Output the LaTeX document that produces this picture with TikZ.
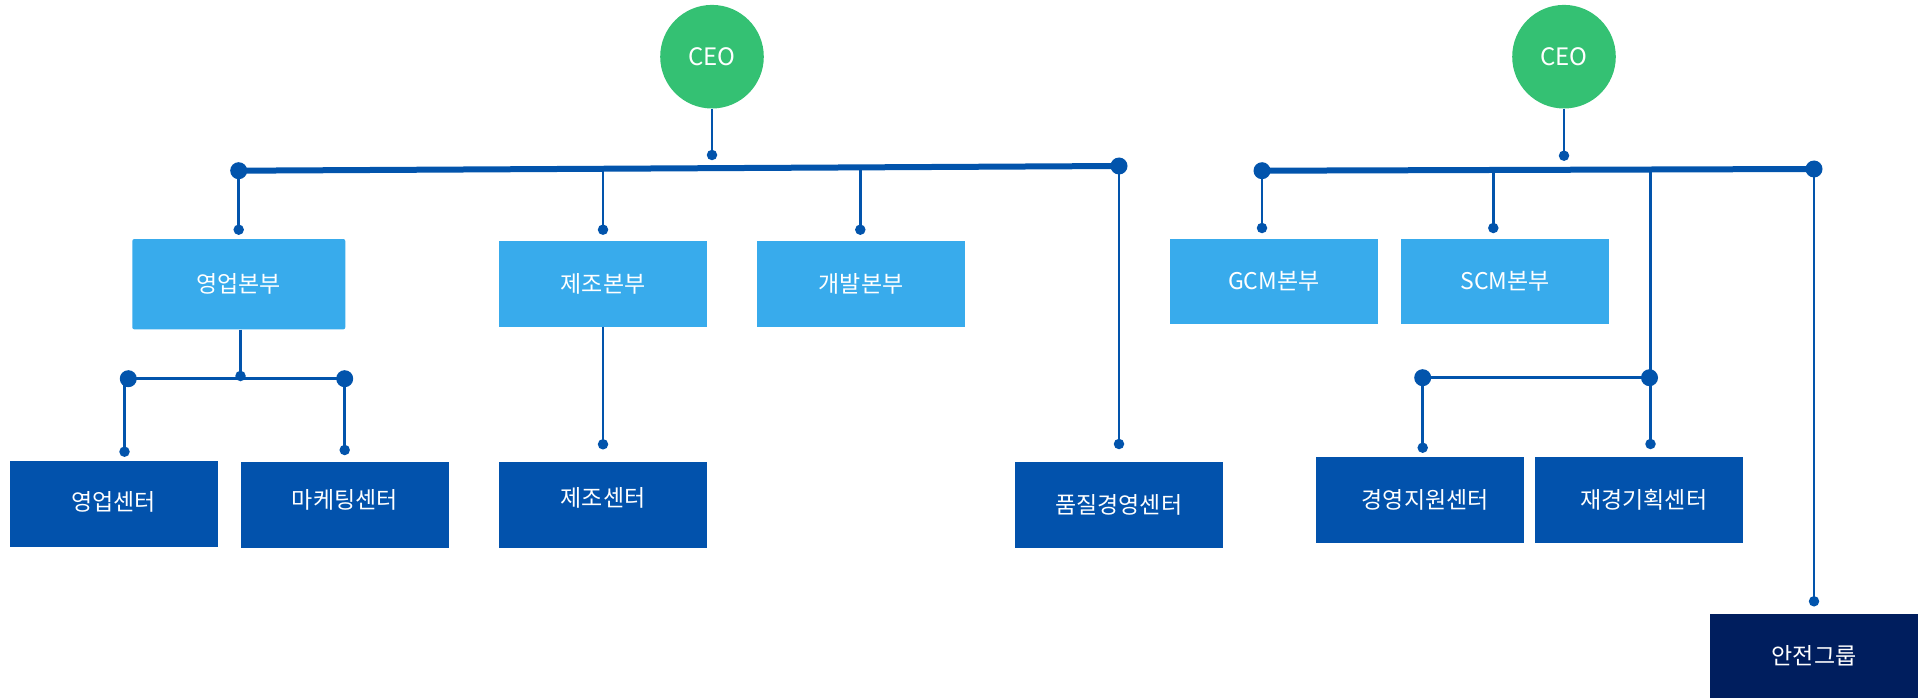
\documentclass[tikz,border=0pt]{standalone}
\usepackage{fontspec}
\setmainfont{Noto Sans CJK KR}
\definecolor{lightblue}{HTML}{38ABEC}
\definecolor{darkblue}{HTML}{0252AC}
\definecolor{navy}{HTML}{001E5E}
\definecolor{ceogreen}{HTML}{34C173}
\definecolor{lineblue}{HTML}{0254AC}
\tikzset{
  boxbase/.style={rectangle, text=white, inner sep=0pt, minimum width=208pt, minimum height=85.7pt, font=\fontsize{23}{27}\selectfont},
  lbox/.style={boxbase, fill=lightblue},
  dbox/.style={boxbase, fill=darkblue},
  nbox/.style={boxbase, fill=navy},
  lbl/.style={text=white, inner sep=0pt, font=\fontsize{23}{27}\selectfont},
  ceo/.style={circle, fill=ceogreen, text=white, minimum size=103.6pt, inner sep=0pt, font=\fontsize{24}{28}\selectfont},
  bdot/.style={circle, fill=lineblue, minimum size=17pt, inner sep=0pt},
  sdot/.style={circle, fill=lineblue, minimum size=10.5pt, inner sep=0pt},
  conn/.style={draw=lineblue, line width=2.7pt},
  mainbar/.style={draw=lineblue, line width=6pt},
  subbar/.style={draw=lineblue, line width=3.5pt},
}
\begin{document}
\begin{tikzpicture}[x=1pt,y=-1pt]
\useasboundingbox (0,0) rectangle (1925,698);
% CEOs
\node[ceo] (ceo1) at (712,56.7) {CEO};
\node[ceo] (ceo2) at (1564,56.7) {CEO};
% boxes
\node[lbox, rounded corners=2pt, minimum width=213pt, minimum height=90.3pt] (yb) at (238.8,284.2) {영업본부};
\node[lbox] (jb) at (603,283.8) {제조본부};
\node[lbox] (gb) at (861,283.8) {개발본부};
\node[lbox, minimum height=85.3pt] (gcm) at (1273.8,281.7) {GCM본부};
\node[lbox, minimum height=85.3pt] (scm) at (1505,281.7) {SCM본부};
\node[dbox, label={[lbl, yshift=2pt]center:영업센터}] (yc) at (113.8,503.8) {};
\node[dbox, label={[lbl, yshift=4.5pt]center:마케팅센터}] (mkc) at (344.8,504.8) {};
\node[dbox, label={[lbl, yshift=6.5pt]center:제조센터}] (jc) at (603,504.8) {};
\node[dbox] (qc) at (1118.8,504.8) {품질경영센터};
\node[dbox, label={[lbl, xshift=5.5pt]center:경영지원센터}] (kc) at (1419.8,499.8) {};
\node[dbox, label={[lbl, xshift=5pt]center:재경기획센터}] (fc) at (1638.8,499.8) {};
\node[nbox, minimum height=84pt] (sg) at (1814,656) {안전그룹};
% dots
\node[sdot] (c1) at (712,155) {};
\node[sdot] (c2) at (1564,155.7) {};
\node[bdot] (b1l) at (238.7,170.7) {};
\node[bdot] (b1r) at (1119,166) {};
\node[bdot] (b2l) at (1262,170.7) {};
\node[bdot] (b2r) at (1814,169) {};
\node[sdot] (dyb) at (238.7,229.7) {};
\node[sdot] (djb) at (603,229.7) {};
\node[sdot] (dgb) at (860.3,229.7) {};
\node[sdot] (dqc) at (1119,444) {};
\node[sdot] (djc) at (603,444.3) {};
\node[sdot] (ymid) at (240.5,376) {};
\node[bdot] (s1l) at (128.3,378.7) {};
\node[bdot] (s1r) at (344.7,378.7) {};
\node[sdot] (dyc) at (124.5,451.7) {};
\node[sdot] (dmkc) at (344.7,450) {};
\node[sdot] (dgcm) at (1262,228) {};
\node[sdot] (dscm) at (1493.3,228) {};
\node[bdot] (s2l) at (1422.7,377.7) {};
\node[bdot] (s2r) at (1649.5,377.7) {};
\node[sdot] (dkc) at (1422.7,447.7) {};
\node[sdot] (dfc) at (1650.5,444) {};
\node[sdot] (dsg) at (1814,601.3) {};
\coordinate (tjb) at (603,168.5);
\coordinate (tgb) at (860.3,167.7);
\coordinate (tscm) at (1493.3,167.5);
\coordinate (tfin) at (1650.5,167.5);
% connectors
\draw[conn] (ceo1.south) -- (c1.center);
\draw[conn] (ceo2.south) -- (c2.center);
\draw[mainbar] (b1l.center) -- (b1r.center);
\draw[mainbar] (b2l.center) -- (b2r.center);
\draw[conn] (b1l.center) -- (dyb.center);
\draw[conn] (tjb) -- (djb.center);
\draw[conn] (tgb) -- (dgb.center);
\draw[conn] (b1r.center) -- (dqc.center);
\draw[conn] (jb.south) -- (djc.center);
\draw[conn] (yb.south -| ymid.center) -- (ymid.center);
\draw[subbar] (s1l.center) -- (s1r.center);
\draw[conn] (dyc |- s1l.center) -- (dyc.center);
\draw[conn] (s1r.center) -- (dmkc.center);
\draw[conn] (b2l.center) -- (dgcm.center);
\draw[conn] (tscm) -- (dscm.center);
\draw[conn] (tfin) -- (dfc.center);
\draw[subbar] (s2l.center) -- (s2r.center);
\draw[conn] (s2l.center) -- (dkc.center);
\draw[conn] (b2r.center) -- (dsg.center);
\end{tikzpicture}
\end{document}
